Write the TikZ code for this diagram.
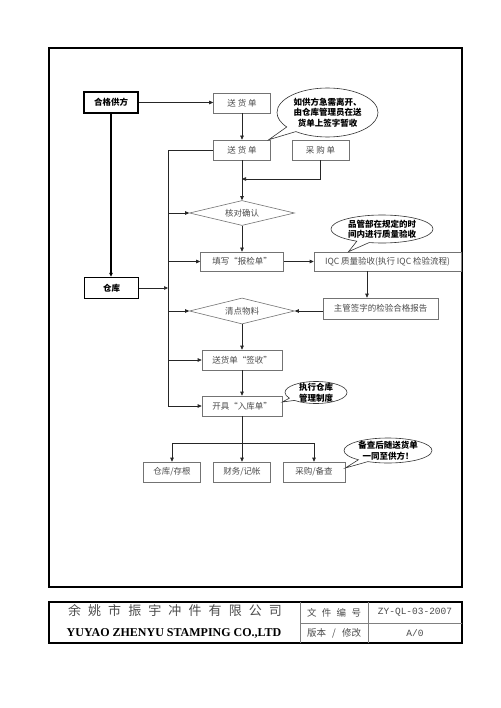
\documentclass[tikz,border=0pt]{standalone}
\usepackage{fontspec}
\setmainfont{Liberation Serif}
\setmonofont{Liberation Mono}
\newfontfamily\cjk{Noto Sans CJK SC}
\usetikzlibrary{arrows.meta,shapes.geometric,shapes.callouts}
\begin{document}
\begin{tikzpicture}[x=1pt,y=-1pt,
  box/.style={draw=black!55, line width=0.6pt, minimum width=#1, minimum height=20pt, inner sep=0pt,
    font=\cjk\fontsize{8.5}{10}\selectfont, text=black!70},
  box/.default=57pt,
  thickbox/.style={draw=black, line width=1.4pt, minimum width=54pt, minimum height=21pt, inner sep=0pt,
    font=\cjk\bfseries\fontsize{8.5}{10}\selectfont},
  dia/.style={diamond, shape aspect=4.2, draw=black!55, line width=0.6pt, minimum width=105pt, minimum height=#1, inner sep=0pt,
    font=\cjk\fontsize{8.5}{10}\selectfont, text=black!70},
  dia/.default=25pt,
  call/.style={ellipse callout, draw=black!80, line width=0.6pt, fill=white, inner sep=-4pt, align=center,
    font=\cjk\bfseries\fontsize{8.5}{10.5}\selectfont},
  arr/.style={-{Triangle[length=4pt,width=3.5pt]}, draw=black!85, line width=0.6pt},
  ln/.style={draw=black!85, line width=0.6pt},
  foot/.style={inner sep=0pt, text=black!70}
]
\useasboundingbox (0,0) rectangle (500,708);
\fill[white] (0,0) rectangle (500,708);
\draw[line width=1.3pt] (49,48) rectangle (462,587);

% nodes
\node[thickbox] (gf) at (111,102.5) {合格供方};
\node[thickbox] (ck) at (111.5,288) {仓库};
\node[box] (sd1) at (242,103) {送 货 单};
\node[box] (sd2) at (242,150) {送 货 单};
\node[box] (cg) at (320.5,150) {采 购 单};
\node[dia] (hd) at (242,213) {核对确认};
\node[box=83pt, minimum height=19pt] (tx) at (242,261.5) {填写“报检单”};
\node[box=147pt, minimum height=19pt] (iqc) at (387.5,261.5) {IQC 质量验收(执行 IQC 检验流程)};
\node[box=115pt, minimum height=21pt] (zg) at (380.5,308.5) {主管签字的检验合格报告};
\node[dia=26pt] (qd) at (242,311) {清点物料};
\node[box=80pt] (qs) at (242,360) {送货单“签收”};
\node[box=80pt] (kj) at (242,406) {开具“入库单”};
\node[box] (c1) at (172,472) {仓库/存根};
\node[box] (c2) at (242,472) {财务/记帐};
\node[box=62pt] (c3) at (314,472) {采购/备查};

% connectors
\draw[arr] (gf.east) -- (gf.east -| sd1.west);
\draw[arr, draw=black, line width=1.4pt] (gf.south) -- (gf.south |- ck.north);
\draw[arr] (sd1.south) -- (sd2.north);
\coordinate (j1) at (242,179);
\draw[arr] (cg.south) |- (j1);
\draw[arr] (sd2.south) -- (hd.north);
\draw[arr] (hd.south) -- (tx.north);
\draw[arr] (tx.east) -- (iqc.west);
\draw[arr] ([xshift=-20.5pt]iqc.south) -- ([xshift=-20.5pt]iqc.south |- zg.north);
\draw[arr] (zg.west |- qd.east) -- (qd.east);
\draw[arr] (qd.south) -- (qs.north);
\draw[arr] (qs.south) -- (kj.north);

% bus
\coordinate (b0) at (168,150);
\coordinate (b1) at (168,406);
\draw[ln] (sd2.west) -- (b0) -- (b1);
\draw[arr] (ck.east) -- (ck.east -| b0);
\draw[arr] (hd.west -| b0) -- (hd.west);
\draw[arr] (tx.west -| b0) -- (tx.west);
\draw[arr] (qd.west -| b0) -- (qd.west);
\draw[arr] (qs.west -| b0) -- (qs.west);
\draw[arr] (b1) -- (kj.west);

% tree
\coordinate (t0) at (242,443);
\coordinate (tl) at (172,443);
\coordinate (tr) at (314,443);
\draw[ln] (kj.south) -- (t0);
\draw[ln] (tl) -- (tr);
\draw[arr] (tl) -- (c1.north);
\draw[arr] (t0) -- (c2.north);
\draw[arr] (tr) -- (c3.north);

% callouts
\node[call, minimum width=101pt, minimum height=49pt, callout absolute pointer={([xshift=-2pt]sd2.north east)}]
  (co1) at (327.5,112.5) {如供方急需离开、\\由仓库管理员在送\\货单上签字暂收};
\node[call, minimum width=102pt, minimum height=28pt, callout absolute pointer={([xshift=-39pt]iqc.north)}]
  (co2) at (382,229) {品管部在规定的时\\间内进行质量验收};
\node[call, minimum width=62pt, minimum height=22pt, callout absolute pointer={([yshift=4pt]kj.east)}]
  (co3) at (316,392.5) {执行仓库\\管理制度};
\node[call, minimum width=88pt, minimum height=25pt, callout absolute pointer={([yshift=4pt]c3.east)}]
  (co4) at (388,450.5) {备查后随送货单\\一同至供方！};

% footer
\draw[line width=1.2pt] (49,602) rectangle (462,643);
\draw[black!50, line width=0.6pt] (300,602) -- (300,643);
\draw[black!50, line width=0.6pt] (368,602) -- (368,643);
\draw[black!50, line width=0.6pt] (300,623) -- (462,623);
\node[foot, font=\cjk\fontsize{13}{13}\selectfont] (f1) at (175,611)
  {\makebox[214pt][s]{余\hfill 姚\hfill 市\hfill 振\hfill 宇\hfill 冲\hfill 件\hfill 有\hfill 限\hfill 公\hfill 司}};
\node[foot, text=black, font=\bfseries\fontsize{12}{12}\selectfont] (f2) at (174,633) {YUYAO ZHENYU STAMPING CO.,LTD};
\node[foot, font=\cjk\fontsize{9.5}{10}\selectfont] (f3) at (334,612.5)
  {\makebox[54pt][s]{文\hfill 件\hfill 编\hfill 号}};
\node[foot, font=\ttfamily\fontsize{9.5}{10}\selectfont] (f4) at (415,612.5) {ZY-QL-03-2007};
\node[foot, font=\cjk\fontsize{9.5}{10}\selectfont] (f5) at (334,633)
  {\makebox[54pt][s]{版本\hfill /\hfill 修改}};
\node[foot, font=\ttfamily\fontsize{9.5}{10}\selectfont] (f6) at (415,633) {A/0};
\end{tikzpicture}
\end{document}
